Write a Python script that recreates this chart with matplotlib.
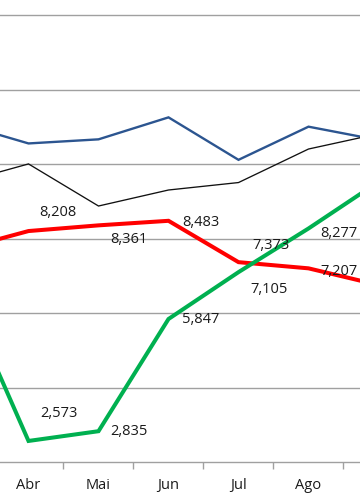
import matplotlib
matplotlib.use("Agg")
import matplotlib.pyplot as plt

# categories (Mar and Set fall just outside the visible window)
months = ["Mar", "Abr", "Mai", "Jun", "Jul", "Ago", "Set"]

blue = [11.11, 10.56, 10.67, 11.26, 10.12, 11.01, 10.65]
black = [9.49, 10.01, 8.88, 9.31, 9.51, 10.41, 10.82]
red = [7.70, 8.208, 8.361, 8.483, 7.373, 7.207, 6.76]
green = [6.85, 2.573, 2.835, 5.847, 7.105, 8.277, 9.53]

# labelled points: month index -> label offset in pixels
red_labels = {1: (11, 19), 2: (12, -14), 3: (14, -2), 4: (14, 17), 5: (12, -3)}
green_labels = {1: (12, 27), 2: (12, 0), 3: (14, -1), 4: (12, -17), 5: (12, -5)}

W, H, DPI = 360, 504, 100
fig = plt.figure(figsize=(W / DPI, H / DPI), dpi=DPI)
plt.rcParams["font.family"] = ["Open Sans", "DejaVu Sans"]

y_axis_px = 462.3          # pixel row of the value-axis minimum
px_per_unit = 37.25
ymin, ymax = 2, 16
bottom = (H - y_axis_px) / H
height = (ymax - ymin) * px_per_unit / H
ax = fig.add_axes([0, bottom, 1, height])

x = list(range(len(months)))
ax.plot(x, blue, color="#2C5590", lw=1.7, solid_joinstyle="miter", zorder=3)
ax.plot(x, black, color="#111111", lw=0.95, solid_joinstyle="miter", zorder=3)
ax.plot(x, red, color="#FF0000", lw=2.9, solid_joinstyle="miter", zorder=4)
ax.plot(x, green, color="#00B050", lw=2.9, solid_joinstyle="miter", zorder=4)

for series, labels in ((red, red_labels), (green, green_labels)):
    for i, (dx, dy) in labels.items():
        txt = f"{series[i]:.3f}".replace(".", ",")
        ax.annotate(txt, (x[i], series[i]), xytext=(dx, dy),
                    textcoords="offset pixels", ha="left", va="center",
                    fontsize=10.5, color="#1a1a1a", zorder=5)

ax.set_yticks(range(4, 17, 2))
ax.yaxis.grid(True, color="#A0A0A0", lw=1.0)
ax.tick_params(axis="y", left=False, labelleft=False)

ax.set_xticks(x)
ax.set_xticklabels(months, fontsize=10.5, color="#1a1a1a")
ax.set_xticks([i + 0.5 for i in range(-1, len(months))], minor=True)
ax.tick_params(axis="x", which="major", length=0, pad=11)
ax.tick_params(axis="x", which="minor", length=5, width=1.0, color="#A0A0A0")

ax.set_xlim(1 - 28.5 / 70, 1 + (W - 28.5) / 70)
ax.set_ylim(ymin, ymax)

for side in ("left", "right", "top"):
    ax.spines[side].set_visible(False)
ax.spines["bottom"].set_color("#A0A0A0")
ax.spines["bottom"].set_linewidth(1.0)
ax.set_axisbelow(True)

fig.savefig("out.png", dpi=DPI)
